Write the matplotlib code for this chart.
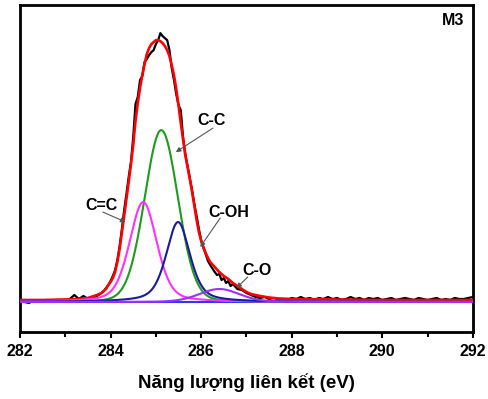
import numpy as np
import matplotlib
matplotlib.use("Agg")
import matplotlib.pyplot as plt
from matplotlib.ticker import MultipleLocator

plt.rcParams["font.family"] = ["Liberation Sans", "DejaVu Sans"]
plt.rcParams["font.weight"] = "bold"

# ---- measured spectrum (binding energy eV, intensity a.u.) ----
raw_e = [282.0, 282.1, 282.2, 282.3, 282.4, 282.5, 282.6, 282.7, 282.8, 282.9,
         283.0, 283.1, 283.2, 283.3, 283.4, 283.5, 283.6, 283.7, 283.8, 283.85,
         283.9, 283.95, 284.0, 284.05, 284.1, 284.15, 284.2, 284.25, 284.3, 284.35,
         284.4, 284.45, 284.5, 284.55, 284.6, 284.65, 284.7, 284.75, 284.8, 284.85,
         284.9, 284.95, 285.0, 285.05, 285.1, 285.15, 285.2, 285.25, 285.3, 285.35,
         285.4, 285.45, 285.5, 285.55, 285.6, 285.65, 285.7, 285.75, 285.8, 285.85,
         285.9, 285.95, 286.0, 286.05, 286.1, 286.15, 286.2, 286.3, 286.35, 286.4,
         286.45, 286.5, 286.55, 286.6, 286.65, 286.7, 286.8, 286.9, 287.0, 287.1,
         287.2, 287.3, 287.4, 287.5, 287.6, 287.7, 287.8, 287.9, 288.0, 288.1,
         288.2, 288.3, 288.4, 288.5, 288.6, 288.7, 288.8, 288.9, 289.0, 289.1,
         289.2, 289.3, 289.4, 289.5, 289.6, 289.7, 289.8, 289.9, 290.0, 290.1,
         290.2, 290.3, 290.4, 290.5, 290.6, 290.7, 290.8, 290.9, 291.0, 291.1,
         291.2, 291.3, 291.4, 291.5, 291.6, 291.7, 291.8, 291.9, 292.0]
raw_i = [1, 0, -1, 2, 1, 1.5, 2, 1.5, 2, 2,
         2, 3, 7, 3, 6, 3, 4, 6, 9, 11,
         14, 17, 21, 26, 32, 42, 56, 73, 92, 108,
         125, 140, 165, 198, 205, 222, 226, 240, 243, 247,
         250, 252, 258, 262, 269, 266, 264, 262, 252, 234,
         222, 208, 197, 192, 165, 148, 136, 124, 112, 98,
         86, 73, 62, 54, 48, 41, 37, 30, 27, 28,
         22, 24, 19, 21, 16, 18, 13, 12, 9, 7,
         5, 4, 5, 3, 4, 3, 3, 2, 4, 3,
         5, 3, 4, 2, 4, 3, 5, 3, 4, 2,
         3, 5, 3, 4, 2, 4, 3, 4, 2, 3,
         4, 2, 3, 4, 3, 2, 4, 3, 2, 3,
         4, 2, 3, 2, 4, 3, 3, 4, 5]

# ---- cumulative fit envelope (red) ----
fit_e = [282.0, 282.5, 283.0, 283.3, 283.5, 283.7, 283.8, 283.9, 283.95, 284.0,
         284.05, 284.1, 284.15, 284.2, 284.25, 284.3, 284.35, 284.4, 284.45, 284.5,
         284.55, 284.6, 284.65, 284.7, 284.75, 284.8, 284.85, 284.9, 284.95, 285.0,
         285.05, 285.1, 285.15, 285.2, 285.25, 285.3, 285.35, 285.4, 285.45, 285.5,
         285.55, 285.6, 285.65, 285.7, 285.75, 285.8, 285.85, 285.9, 285.95, 286.0,
         286.05, 286.1, 286.15, 286.2, 286.3, 286.4, 286.5, 286.6, 286.7, 286.8,
         286.9, 287.0, 287.1, 287.3, 287.5, 287.7, 288.0, 289.0, 290.0, 292.0]
fit_i = [2, 2, 2.5, 3, 4, 7, 9, 13, 17, 20,
         24, 30, 40, 53, 70, 86, 103, 120, 138, 157,
         181, 199, 214, 227, 238, 248, 254, 258, 260, 262,
         262, 261, 259, 256, 252, 246, 237, 227, 213, 197,
         179, 163, 147, 135, 123, 110, 96, 82, 70, 61,
         55, 49, 44, 40, 35, 30, 26, 23, 19, 16,
         13, 10, 8, 6, 4.5, 3.5, 3, 2.5, 2, 2]

# ---- fitted component peaks (pseudo-Voigt parameters) ----
comp_names = ["C-C", "C=C", "C-OH", "C-O"]
comp_center = [285.12, 284.72, 285.49, 286.40]
comp_height = [172, 100, 80, 13]
comp_fwhm = [0.87, 0.71, 0.62, 1.05]
comp_eta = [0.1, 0.35, 0.5, 0.2]
comp_color = ["#1f9a1f", "#ff33ff", "#1a1a9a", "#9b30ff"]

x_ticks = [282, 284, 286, 288, 290, 292]


def pseudo_voigt(x, c, h, w, eta):
    g = np.exp(-4 * np.log(2) * ((x - c) / w) ** 2)
    l = 1.0 / (1.0 + (2 * (x - c) / w) ** 2)
    return h * (eta * l + (1 - eta) * g)


fig = plt.figure(figsize=(4.88, 3.99), dpi=100)
ax = fig.add_axes([0.041, 0.168, 0.928, 0.819])

xx = np.linspace(282, 292, 1001)
ax.plot(xx, np.zeros_like(xx), color="#3333ff", lw=1.5, zorder=1)
ax.plot(raw_e, raw_i, color="black", lw=1.6, zorder=2)
ax.plot(fit_e, fit_i, color="#ff0000", lw=1.9, zorder=3)
for c, h, w, e, col in zip(comp_center, comp_height, comp_fwhm, comp_eta, comp_color):
    ax.plot(xx, pseudo_voigt(xx, c, h, w, e), color=col, lw=1.5, zorder=4)

ax.set_xlim(282, 292)
ax.set_ylim(-30, 297)
ax.set_xticks(x_ticks)
ax.xaxis.set_minor_locator(MultipleLocator(1))
ax.set_yticks([])
ax.tick_params(axis="x", which="major", direction="out", length=4, width=1.5,
               labelsize=11.5, pad=5)
ax.tick_params(axis="x", which="minor", direction="out", length=3.5, width=1.5)
for lab in ax.get_xticklabels():
    lab.set_fontweight("bold")
for sp in ax.spines.values():
    sp.set_linewidth(2.0)

ax.set_xlabel("Năng lượng liên kết (eV)", fontsize=13.5, fontweight="bold", labelpad=10)

ax.text(0.956, 0.954, "M3", transform=ax.transAxes, ha="center", va="center",
        fontsize=11.5, fontweight="bold")

arrow_kw = dict(arrowstyle="-|>", color="#555555", lw=0.8, mutation_scale=7,
                shrinkA=0, shrinkB=0)
ann = [
    ("C-C", (286.24, 182), (286.26, 174), (285.44, 150)),
    ("C=C", (283.81, 97), (283.83, 90), (284.33, 80)),
    ("C-OH", (286.61, 90), (286.42, 84), (285.98, 55)),
    ("C-O", (287.23, 32), (287.03, 25), (286.78, 14)),
]
for label, tpos, start, tip in ann:
    ax.text(tpos[0], tpos[1], label, ha="center", va="center", fontsize=11.5,
            fontweight="bold", zorder=6)
    ax.annotate("", xy=tip, xytext=start, arrowprops=arrow_kw, zorder=6)

fig.savefig("out.png", dpi=100)
